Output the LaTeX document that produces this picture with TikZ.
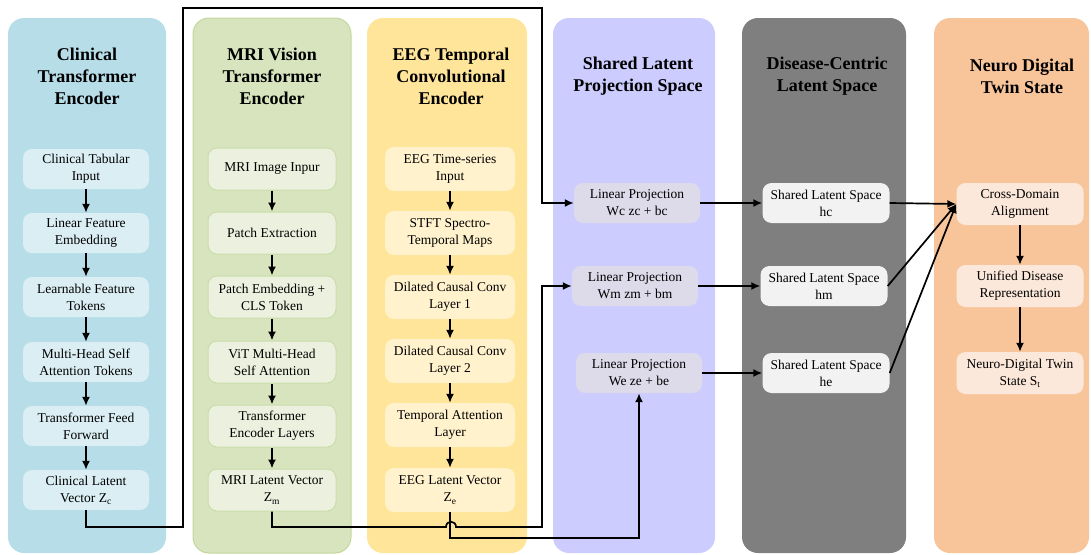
\documentclass[tikz,border=0pt]{standalone}
\usepackage{fontspec}
\setmainfont{Liberation Serif}
\usetikzlibrary{arrows.meta}
\definecolor{pA}{HTML}{B7DDE8}
\definecolor{bA}{HTML}{DBEEF4}
\definecolor{pB}{HTML}{D7E4BD}
\definecolor{pBl}{HTML}{C3D69B}
\definecolor{bB}{HTML}{EBF1DE}
\definecolor{bBl}{HTML}{CADCAA}
\definecolor{pC}{HTML}{FFE599}
\definecolor{bC}{HTML}{FFF2CC}
\definecolor{pD}{HTML}{CCCCFF}
\definecolor{bD}{HTML}{DDDAEA}
\definecolor{pE}{HTML}{7F7F7F}
\definecolor{bE}{HTML}{F2F2F2}
\definecolor{pF}{HTML}{F8C59B}
\definecolor{bF}{HTML}{FCE8DA}
\tikzset{
  panel/.style={rounded corners=16pt},
  title/.style={font=\fontsize{18}{22}\selectfont\bfseries, align=center},
  box/.style={rounded corners=9pt, align=center, inner sep=0pt,
    font=\fontsize{13.5}{17}\selectfont, minimum height=40pt, minimum width=126pt},
  boxA/.style={box, fill=bA},
  boxB/.style={box, fill=bB, draw=bBl, line width=1pt, minimum width=128pt, minimum height=42pt},
  boxC/.style={box, fill=bC, minimum width=130pt, minimum height=44pt},
  boxD/.style={box, fill=bD},
  boxE/.style={box, fill=bE, minimum width=127pt},
  boxF/.style={box, fill=bF, minimum width=127pt, minimum height=42pt},
  arr/.style={-{Latex[length=9pt,width=8pt]}, line width=1.7pt},
  wire/.style={line width=1.7pt}
}
\begin{document}
\begin{tikzpicture}[x=1pt,y=-1pt]
\useasboundingbox (0,0) rectangle (1091,554);
% panels
\fill[panel, pA] (8,18) rectangle (166,553);
\filldraw[panel, fill=pB, draw=pBl, line width=1pt] (193,18) rectangle (351,553);
\fill[panel, pC] (367,18) rectangle (527,553);
\fill[panel, pD] (553,18) rectangle (715,553);
\fill[panel, pE] (742,18) rectangle (906,553);
\fill[panel, pF] (934,18) rectangle (1089,553);
% titles
\node[title] (tA) at (87,76) {Clinical\\Transformer\\Encoder};
\node[title] (tB) at (272,76) {MRI Vision\\Transformer\\Encoder};
\node[title] (tC) at (451,76) {EEG Temporal\\Convolutional\\Encoder};
\node[title] (tD) at (638,76) {Shared Latent\\Projection Space};
\node[title] (tE) at (827,76) {Disease-Centric\\Latent Space};
\node[title] (tF) at (1022,76) {Neuro Digital\\Twin State};
% column 1
\node[boxA] (a1) at (86,169) {Clinical Tabular\\Input};
\node[boxA] (a2) at (86,233) {Linear Feature\\Embedding};
\node[boxA] (a3) at (86,297) {Learnable Feature\\Tokens};
\node[boxA] (a4) at (86,362) {Multi-Head Self\\Attention Tokens};
\node[boxA] (a5) at (86,426) {Transformer Feed\\Forward};
\node[boxA] (a6) at (86,490) {Clinical Latent\\Vector Z\textsubscript{c}};
% column 2
\node[boxB] (b1) at (272,169) {MRI Image Inpur};
\node[boxB] (b2) at (272,233) {Patch Extraction};
\node[boxB] (b3) at (272,297) {Patch Embedding +\\CLS Token};
\node[boxB] (b4) at (272,362) {ViT Multi-Head\\Self Attention};
\node[boxB] (b5) at (272,426) {Transformer\\Encoder Layers};
\node[boxB] (b6) at (272,490) {MRI Latent Vector\\Z\textsubscript{m}};
% column 3
\node[boxC] (c1) at (450,169) {EEG Time-series\\Input};
\node[boxC] (c2) at (450,233) {STFT Spectro-\\Temporal Maps};
\node[boxC] (c3) at (450,297) {Dilated Causal Conv\\Layer 1};
\node[boxC] (c4) at (450,361) {Dilated Causal Conv\\Layer 2};
\node[boxC] (c5) at (450,425) {Temporal Attention\\Layer};
\node[boxC] (c6) at (450,490) {EEG Latent Vector\\Z\textsubscript{e}};
% column 4
\node[boxD] (d1) at (637,203) {Linear Projection\\Wc zc + bc};
\node[boxD] (d2) at (635,286) {Linear Projection\\Wm zm + bm};
\node[boxD] (d3) at (639,373) {Linear Projection\\We ze + be};
% column 5
\node[boxE] (e1) at (826,203) {Shared Latent Space\\hc};
\node[boxE] (e2) at (824,286) {Shared Latent Space\\hm};
\node[boxE] (e3) at (826,373) {Shared Latent Space\\he};
% column 6
\node[boxF] (f1) at (1020,204) {Cross-Domain\\Alignment};
\node[boxF] (f2) at (1020,286) {Unified Disease\\Representation};
\node[boxF] (f3) at (1020,373) {Neuro-Digital Twin\\State S\textsubscript{t}};
% vertical arrows
\foreach \p/\q in {a1/a2,a2/a3,a3/a4,a4/a5,a5/a6,b1/b2,b2/b3,b3/b4,b4/b5,b5/b6,c1/c2,c2/c3,c3/c4,c4/c5,c5/c6,f1/f2,f2/f3}
  \draw[arr] (\p.south) -- (\q.north);
% routing coordinates
\coordinate (zc1) at (86,527);
\coordinate (zc2) at (183,527);
\coordinate (zc3) at (183,8);
\coordinate (zc4) at (542,8);
\coordinate (zm1) at (272,527);
\coordinate (hopL) at (446,527);
\coordinate (hopR) at (456,527);
\coordinate (zm2) at (542,527);
\coordinate (ze1) at (450,538);
% Zc -> d1
\draw[arr] (a6.south) -- (zc1) -- (zc2) -- (zc3) -- (zc4) |- (d1.west);
% Zm -> d2 (with hop over Ze line)
\draw[arr] (b6.south) -- (zm1) -- (hopL) .. controls (446,520) and (456,520) .. (hopR) -- (zm2) |- (d2.west);
% Ze -> d3
\draw[arr] (c6.south) -- (ze1) -| (d3.south);
% projections to latent spaces
\draw[arr] (d1.east) -- (e1.west);
\draw[arr] (d2.east) -- (e2.west);
\draw[arr] (d3.east) -- (e3.west);
% latent spaces to alignment
\draw[arr] (e1.east) -- (f1.west);
\draw[arr] (e2.east) -- (f1.west);
\draw[arr] (e3.east) -- (f1.west);
\end{tikzpicture}
\end{document}
